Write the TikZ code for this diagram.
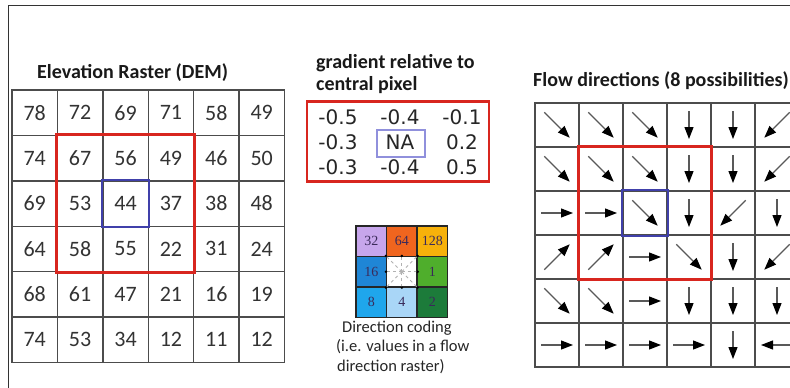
\documentclass[tikz,border=0pt]{standalone}
\usepackage{fontspec}
\setmainfont{Carlito}
\newfontfamily\gradfont{DejaVu Sans}
\newfontfamily\codefont{Liberation Serif}
\usetikzlibrary{arrows.meta,calc}

\definecolor{hired}{HTML}{D8261F}
\definecolor{ctrblue}{HTML}{4040AA}
\definecolor{nablue}{HTML}{9090DC}
\definecolor{cA}{HTML}{C7A6EC}
\definecolor{cB}{HTML}{F0651E}
\definecolor{cC}{HTML}{F7B10A}
\definecolor{cD}{HTML}{1F86D6}
\definecolor{cE}{HTML}{4FAE2C}
\definecolor{cF}{HTML}{1FA6EC}
\definecolor{cG}{HTML}{A9D6F7}
\definecolor{cH}{HTML}{1C7B3A}
\definecolor{codetext}{HTML}{3A2A5A}

\tikzset{
  framepen/.style={draw=black!80, line width=1.4pt},
  demcell/.style={draw=black!70, line width=1.4pt, minimum width=45.4pt,
    minimum height=45.4pt, inner sep=0pt, text=black!80,
    font=\fontsize{22}{22}\selectfont},
  flowcell/.style={draw=black!70, line width=1.4pt, minimum width=44pt,
    minimum height=44pt, inner sep=0pt},
  flowarrow/.style={draw=black!65, line width=1.2pt,
    -{Triangle[length=12pt,width=9pt,color=black]}},
  hilite/.style={draw=hired, line width=2.6pt},
  centre/.style={draw=ctrblue, line width=1.8pt},
  heading/.style={font=\bfseries\fontsize{20}{20}\selectfont, text=black!90,
    inner sep=0pt, anchor=base west},
  gradnum/.style={font=\gradfont\fontsize{20}{20}\selectfont, text=black!85,
    inner sep=0pt},
  codecell/.style={draw=black!85, line width=1.2pt, minimum width=30.5pt,
    minimum height=30.5pt, inner sep=0pt, text=codetext,
    font=\codefont\fontsize{14}{14}\selectfont},
  caption/.style={font=\fontsize{16.5}{16.5}\selectfont, text=black!85,
    inner sep=0pt, anchor=base west},
}

\begin{document}
\begin{tikzpicture}[x=1pt,y=-1pt]
\useasboundingbox (0,0) rectangle (790,388);
\fill[white] (0,0) rectangle (790,388);

% page frame: left and top rules
\coordinate (frameBL) at (8.5,388);
\coordinate (frameTL) at (8.5,5.5);
\coordinate (frameTR) at (790,5.5);
\draw[framepen] (frameBL) -- (frameTL) -- (frameTR);

% ---------- elevation raster ----------
\node[heading] (demtitle) at (37,78) {Elevation Raster (DEM)};
\foreach \vals [count=\r from 0] in {
  {78,72,69,71,58,49},
  {74,67,56,49,46,50},
  {69,53,44,37,38,48},
  {64,58,55,22,31,24},
  {68,61,47,21,16,19},
  {74,53,34,12,11,12}}{
  \foreach \v [count=\c from 0] in \vals {
    \node[demcell] (dem-\r-\c) at (12+45.4*\c+22.7, 90+45.4*\r+22.7) {\v};
  }
}
\draw[hilite] (dem-1-1.north west) rectangle (dem-3-3.south east);
\draw[centre] (dem-2-2.north west) rectangle (dem-2-2.south east);

% ---------- gradient window ----------
\node[heading] (gradtitleA) at (316,68) {gradient relative to};
\node[heading] (gradtitleB) at (316,90) {central pixel};
\node[draw=hired, line width=2.4pt, minimum width=182pt, minimum height=80pt,
  inner sep=0pt] (gradbox) at (398,141.5) {};
\foreach \vals [count=\r from 0] in {
  {-0.5,-0.4,-0.1},
  {-0.3,NA,0.2},
  {-0.3,-0.4,0.5}}{
  \foreach \v [count=\c from 0] in \vals {
    \node[gradnum] (grad-\r-\c) at (338+62*\c, 117+25*\r) {\v};
  }
}
\node[draw=nablue, line width=1.3pt, minimum width=48pt, minimum height=27pt,
  inner sep=0pt] (nabox) at (401,143.5) {};

% ---------- direction coding ----------
\foreach \num/\col [count=\k from 0] in
  {32/cA,64/cB,128/cC,16/cD,/white,1/cE,8/cF,4/cG,2/cH}{
  \pgfmathtruncatemacro\cr{int(\k/3)}
  \pgfmathtruncatemacro\cc{mod(\k,3)}
  \node[codecell, fill=\col] (code-\cr-\cc) at
    (356+30.5*\cc+15.25, 226+30.5*\cr+15.25) {\num};
}
\foreach \anc in {north west,north,north east,east,south east,south,
                  south west,west}{
  \draw[black!30, dashed, line width=0.8pt] (code-1-1.center) -- (code-1-1.\anc);
  \fill[black] (code-1-1.\anc) circle (1.4pt);
}
\node[caption] (capA) at (342,332) {Direction coding};
\node[caption] (capB) at (336,351) {(i.e. values in a flow};
\node[caption] (capC) at (337,371) {direction raster)};

% ---------- flow directions ----------
\node[heading] (flowtitle) at (533,86) {Flow directions (8 possibilities)};
\foreach \vals [count=\r from 0] in {
  {45,45,45,90,90,135},
  {45,45,45,90,90,135},
  {0,0,45,90,135,90},
  {-45,-45,0,45,90,135},
  {45,45,0,90,90,90},
  {0,0,0,0,90,180}}{
  \foreach \a [count=\c from 0] in \vals {
    \node[flowcell] (flow-\r-\c) at (535+44*\c+22, 103+44*\r+22) {};
    \pgfmathsetmacro\len{abs(sin(\a))>0.9 ? 14 : (abs(cos(\a))>0.9 ? 16 : 18)}
    \draw[flowarrow] ($(flow-\r-\c)+(\a+180:\len)$) -- ($(flow-\r-\c)+(\a:\len)$);
  }
}
\draw[hilite] (flow-1-1.north west) rectangle (flow-3-3.south east);
\draw[centre] (flow-2-2.north west) rectangle (flow-2-2.south east);
\end{tikzpicture}
\end{document}
